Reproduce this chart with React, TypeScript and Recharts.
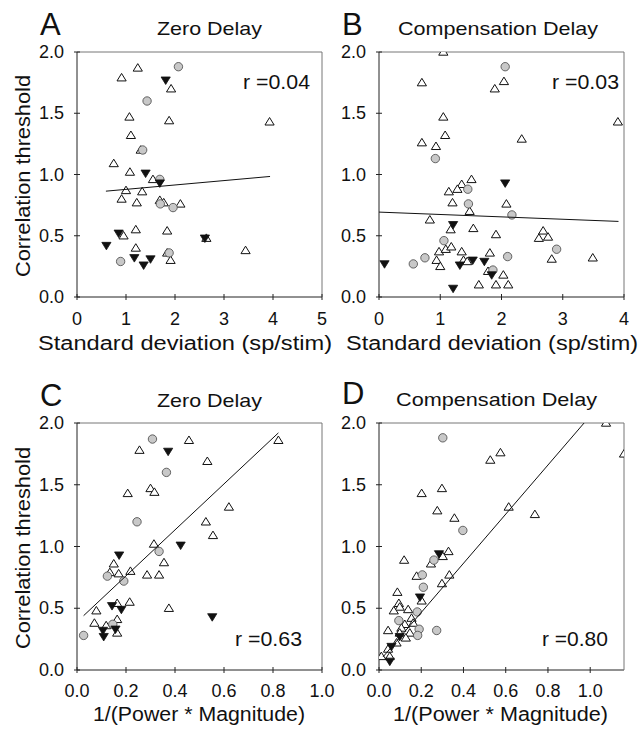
import { ScatterChart, Scatter, XAxis, YAxis, ReferenceLine } from "recharts";

const FONT = "'Liberation Sans', Arial, Helvetica, sans-serif";

const yTicks = [0, 0.5, 1, 1.5, 2];
const sdTicksA = [0, 1, 2, 3, 4, 5];
const sdTicksB = [0, 1, 2, 3, 4];
const pmTicks = [0, 0.2, 0.4, 0.6, 0.8, 1.0];

// panel A: zero delay vs standard deviation
const openA = [
  [1.24, 1.87], [0.91, 1.79], [1.92, 1.7], [1.07, 1.47], [1.88, 1.44], [3.93, 1.43],
  [1.1, 1.32], [1.3, 1.2], [0.75, 1.09], [1.08, 1.02], [1.55, 0.96], [1.0, 0.87],
  [1.33, 0.86], [0.91, 0.8], [1.22, 0.77], [1.69, 0.79], [1.77, 0.77], [2.11, 0.76],
  [1.2, 0.55], [1.84, 0.54], [0.95, 0.5], [2.64, 0.48], [1.2, 0.4], [1.84, 0.36],
  [1.91, 0.3], [3.44, 0.38],
];
const filledA = [
  [1.81, 1.77], [1.4, 1.01], [1.69, 0.93], [0.85, 0.52], [0.6, 0.42], [1.17, 0.32],
  [1.36, 0.26], [1.5, 0.31], [2.61, 0.48],
];
const grayA = [
  [2.07, 1.88], [1.43, 1.6], [1.34, 1.2], [1.69, 0.96], [1.7, 0.76], [1.96, 0.73],
  [1.88, 0.36], [0.89, 0.29],
];
const fitA = [[0.59, 0.864], [3.94, 0.984]];

// panel B: compensation delay vs standard deviation
const openB = [
  [1.05, 2.0], [0.7, 1.75], [2.04, 1.76], [1.89, 1.7], [1.05, 1.47], [3.9, 1.43],
  [1.08, 1.32], [2.33, 1.29], [0.7, 1.26], [0.93, 1.23], [1.51, 0.96], [1.35, 0.92],
  [1.28, 0.88], [1.14, 0.86], [1.2, 0.77], [2.08, 0.76], [1.48, 0.7], [0.83, 0.63],
  [1.17, 0.55], [1.54, 0.56], [1.91, 0.51], [2.68, 0.54], [2.61, 0.48], [2.76, 0.49],
  [0.98, 0.37], [1.09, 0.39], [1.18, 0.41], [1.35, 0.37], [0.94, 0.3], [1.0, 0.25],
  [1.38, 0.3], [1.44, 0.29], [1.81, 0.36], [2.82, 0.31], [3.49, 0.32], [1.78, 0.21],
  [2.03, 0.18], [1.63, 0.1], [1.91, 0.1], [2.11, 0.1],
];
const filledB = [
  [0.09, 0.27], [2.06, 0.93], [1.21, 0.59], [1.32, 0.26], [1.53, 0.3], [1.72, 0.29],
  [1.21, 0.07], [1.84, 0.18],
];
const grayB = [
  [2.06, 1.88], [0.92, 1.13], [1.45, 0.88], [1.46, 0.76], [2.17, 0.67], [1.06, 0.46],
  [0.75, 0.32], [0.56, 0.27], [2.1, 0.33], [1.86, 0.22], [2.9, 0.39],
];
const fitB = [[0.0, 0.693], [3.91, 0.617]];

// panel C: zero delay vs 1/(power * magnitude)
const openC = [
  [0.457, 1.86], [0.255, 1.78], [0.822, 1.86], [0.532, 1.69], [0.207, 1.43], [0.3, 1.47],
  [0.316, 1.44], [0.62, 1.32], [0.526, 1.2], [0.555, 1.09], [0.314, 1.02], [0.355, 0.87],
  [0.15, 0.86], [0.218, 0.8], [0.17, 0.78], [0.134, 0.79], [0.286, 0.77], [0.335, 0.77],
  [0.375, 0.5], [0.079, 0.48], [0.215, 0.55], [0.164, 0.54], [0.071, 0.38], [0.119, 0.36],
  [0.164, 0.41], [0.164, 0.3],
];
const filledC = [
  [0.372, 1.77], [0.172, 0.93], [0.423, 1.01], [0.143, 0.52], [0.181, 0.49], [0.552, 0.43],
  [0.106, 0.32], [0.109, 0.27], [0.157, 0.33],
];
const grayC = [
  [0.308, 1.87], [0.365, 1.6], [0.245, 1.2], [0.335, 0.96], [0.124, 0.76], [0.191, 0.72],
  [0.027, 0.28], [0.146, 0.37],
];
const fitC = [[0.027, 0.44], [0.822, 1.92]];

// panel D: compensation delay vs 1/(power * magnitude)
const openD = [
  [1.075, 2.0], [1.16, 1.75], [0.575, 1.76], [0.527, 1.7], [0.202, 1.43], [0.298, 1.47],
  [0.276, 1.29], [0.357, 1.23], [0.614, 1.32], [0.738, 1.26], [0.329, 0.96], [0.302, 0.92],
  [0.246, 0.86], [0.119, 0.89], [0.333, 0.77], [0.178, 0.76], [0.298, 0.7], [0.087, 0.63],
  [0.094, 0.54], [0.098, 0.51], [0.07, 0.48], [0.138, 0.49], [0.202, 0.56], [0.154, 0.42],
  [0.162, 0.38], [0.122, 0.37], [0.106, 0.34], [0.043, 0.32], [0.098, 0.3], [0.146, 0.3],
  [0.127, 0.26], [0.083, 0.22], [0.043, 0.17], [0.011, 0.11], [0.051, 0.11],
];
const filledD = [
  [0.284, 0.94], [0.194, 0.59], [0.059, 0.19], [0.051, 0.07], [0.098, 0.27],
];
const grayD = [
  [0.302, 1.88], [0.397, 1.13], [0.26, 0.89], [0.205, 0.77], [0.21, 0.67], [0.181, 0.47],
  [0.094, 0.4], [0.19, 0.33], [0.273, 0.32], [0.183, 0.28],
];
const fitD = [[0.019, 0.106], [0.971, 2.0]];

const pts = (arr: number[][]) => arr.map(([x, y]) => ({ x, y }));

const OpenTri = ({ cx, cy }: any) => (
  <polygon
    points={`${cx},${cy - 4.3} ${cx - 4.6},${cy + 3.2} ${cx + 4.6},${cy + 3.2}`}
    fill="#fff"
    stroke="#111"
    strokeWidth={1}
  />
);
const FilledTri = ({ cx, cy }: any) => (
  <polygon
    points={`${cx - 4.6},${cy - 3.2} ${cx + 4.6},${cy - 3.2} ${cx},${cy + 4.3}`}
    fill="#111"
    stroke="#111"
    strokeWidth={0.8}
  />
);
const GrayDot = ({ cx, cy }: any) => (
  <circle cx={cx} cy={cy} r={4.2} fill="#c8c8c8" stroke="#444" strokeWidth={0.8} />
);
const NoDot = () => <g />;

const YTick = ({ x, y, payload }: any) => (
  <g>
    <line x1={x - 3} x2={x + 3} y1={y} y2={y} stroke="#222" />
    <text x={x - 13} y={y + 6} textAnchor="end" fontSize={18} fill="#111" fontFamily={FONT}>
      {payload.value.toFixed(1)}
    </text>
  </g>
);
const RTick = ({ x, y }: any) => <line x1={x - 3} x2={x + 3} y1={y} y2={y} stroke="#666" />;

const makeXTick = (digits: number, base: number) => ({ x, y, payload }: any) => (
  <g>
    <line x1={x} x2={x} y1={y - 3} y2={y + 3} stroke="#222" />
    <text x={x} y={y + base} textAnchor="middle" fontSize={18} fill="#111" fontFamily={FONT}>
      {payload.value.toFixed(digits)}
    </text>
  </g>
);

type PanelProps = {
  left: number;
  top: number;
  width: number;
  height: number;
  yAxisWidth: number;
  marginTop: number;
  marginRight: number;
  xAxisHeight: number;
  xDomain: number[];
  xTicks: number[];
  digits: number;
  tickBase: number;
  open: number[][];
  filled: number[][];
  gray: number[][];
  fit: number[][];
};

function Panel(p: PanelProps) {
  return (
    <div style={{ position: "absolute", left: p.left, top: p.top }}>
      <ScatterChart
        width={p.width}
        height={p.height}
        margin={{ top: p.marginTop, right: p.marginRight, bottom: 0, left: 0 }}
      >
        <XAxis
          type="number"
          dataKey="x"
          domain={p.xDomain}
          ticks={p.xTicks}
          height={p.xAxisHeight}
          tickSize={0}
          tickMargin={0}
          tickLine={false}
          axisLine={{ stroke: "#222" }}
          tick={makeXTick(p.digits, p.tickBase)}
          allowDataOverflow
        />
        <YAxis
          type="number"
          dataKey="y"
          domain={[0, 2]}
          ticks={yTicks}
          width={p.yAxisWidth}
          tickSize={0}
          tickMargin={0}
          tickLine={false}
          axisLine={{ stroke: "#222" }}
          tick={YTick}
          allowDataOverflow
        />
        <YAxis
          yAxisId="r"
          orientation="right"
          type="number"
          domain={[0, 2]}
          ticks={yTicks}
          width={4}
          tickSize={0}
          tickMargin={0}
          tickLine={false}
          axisLine={{ stroke: "#777" }}
          tick={RTick}
        />
        <ReferenceLine y={2} stroke="#777" />
        <Scatter data={pts(p.open)} shape={OpenTri} isAnimationActive={false} />
        <Scatter data={pts(p.gray)} shape={GrayDot} isAnimationActive={false} />
        <Scatter data={pts(p.filled)} shape={FilledTri} isAnimationActive={false} />
        <Scatter
          data={pts(p.fit)}
          shape={NoDot}
          line={{ stroke: "#111", strokeWidth: 1 }}
          isAnimationActive={false}
        />
      </ScatterChart>
    </div>
  );
}

const txt = { fontFamily: FONT, fill: "#111", lengthAdjust: "spacingAndGlyphs" as const };

export default function App() {
  return (
    <div
      style={{
        position: "absolute",
        left: 0,
        top: 0,
        width: 640,
        height: 729,
        background: "#fff",
        overflow: "hidden",
      }}
    >
      <Panel
        left={0} top={0} width={330} height={340} yAxisWidth={77} marginTop={52}
        marginRight={4} xAxisHeight={43} xDomain={[0, 5]} xTicks={sdTicksA} digits={0}
        tickBase={28} open={openA} filled={filledA} gray={grayA} fit={fitA}
      />
      <Panel
        left={330} top={0} width={310} height={340} yAxisWidth={49} marginTop={52}
        marginRight={12} xAxisHeight={43} xDomain={[0, 4]} xTicks={sdTicksB} digits={0}
        tickBase={28} open={openB} filled={filledB} gray={grayB} fit={fitB}
      />
      <Panel
        left={0} top={371} width={345} height={350} yAxisWidth={77} marginTop={52}
        marginRight={19} xAxisHeight={51} xDomain={[0, 1]} xTicks={pmTicks} digits={1}
        tickBase={27} open={openC} filled={filledC} gray={grayC} fit={fitC}
      />
      <Panel
        left={330} top={371} width={310} height={350} yAxisWidth={49} marginTop={52}
        marginRight={12} xAxisHeight={51} xDomain={[0, 1.16]} xTicks={pmTicks} digits={1}
        tickBase={27} open={openD} filled={filledD} gray={grayD} fit={fitD}
      />
      <svg
        width={640}
        height={729}
        style={{ position: "absolute", left: 0, top: 0, pointerEvents: "none" }}
      >
        <text x={40} y={35} fontSize={31} {...txt}>A</text>
        <text x={342} y={35} fontSize={31} {...txt}>B</text>
        <text x={40} y={406} fontSize={31} {...txt}>C</text>
        <text x={342} y={404} fontSize={31} {...txt}>D</text>

        <text x={157} y={35} fontSize={19} textLength={105} {...txt}>Zero Delay</text>
        <text x={398} y={35} fontSize={19} textLength={200} {...txt}>Compensation Delay</text>
        <text x={157} y={407} fontSize={19} textLength={105} {...txt}>Zero Delay</text>
        <text x={396} y={406} fontSize={19} textLength={201} {...txt}>Compensation Delay</text>

        <text x={243} y={89} fontSize={20} textLength={67} {...txt}>r =0.04</text>
        <text x={552} y={89} fontSize={20} textLength={67} {...txt}>r =0.03</text>
        <text x={235} y={646} fontSize={20} textLength={67} {...txt}>r =0.63</text>
        <text x={542} y={646} fontSize={20} textLength={66} {...txt}>r =0.80</text>

        <text x={38} y={350} fontSize={19.5} textLength={294} {...txt}>Standard deviation (sp/stim)</text>
        <text x={346} y={350} fontSize={19.5} textLength={292} {...txt}>Standard deviation (sp/stim)</text>
        <text x={93} y={721} fontSize={19.5} textLength={212} {...txt}>1/(Power * Magnitude)</text>
        <text x={393} y={721} fontSize={19.5} textLength={215} {...txt}>1/(Power * Magnitude)</text>

        <text x={-277} y={30} fontSize={20} textLength={202} transform="rotate(-90)" {...txt}>Correlation threshold</text>
        <text x={-649} y={30} fontSize={20} textLength={202} transform="rotate(-90)" {...txt}>Correlation threshold</text>
      </svg>
    </div>
  );
}
